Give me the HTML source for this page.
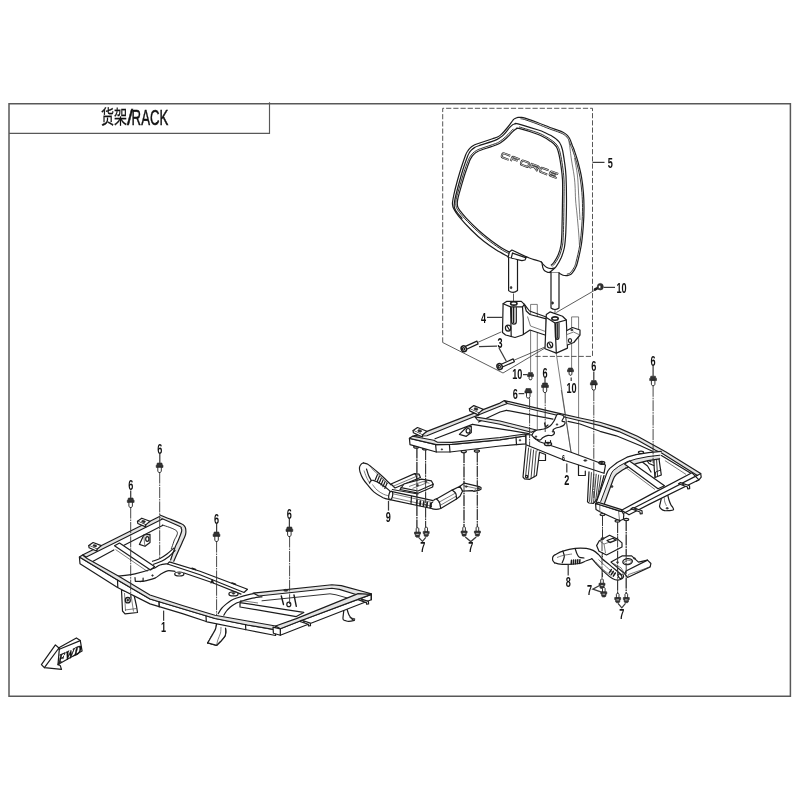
<!DOCTYPE html>
<html><head><meta charset="utf-8"><title>RACK</title>
<style>
html,body{margin:0;padding:0;background:#fff}
svg{display:block;filter:grayscale(1) blur(.3px)}
.fr{fill:none;stroke:#585858;stroke-width:1.5}
.o{fill:none;stroke:#1c1c1c;stroke-width:1.2;stroke-linejoin:round;stroke-linecap:round}
.w{fill:#fff;stroke:#1c1c1c;stroke-width:1.2;stroke-linejoin:round;stroke-linecap:round}
.g{fill:#e3e3e3;stroke:#1c1c1c;stroke-width:1.15;stroke-linejoin:round}
.k{fill:#333;stroke:#222;stroke-width:.6;stroke-linejoin:round}
.t{fill:none;stroke:#333;stroke-width:.8}
.h{fill:none;stroke:#444;stroke-width:.7}
.c{fill:none;stroke:#333;stroke-width:.9;stroke-dasharray:11 .9 1.6 .9}
.d{fill:none;stroke:#444;stroke-width:.9;stroke-dasharray:5.2 2}
.ld{fill:none;stroke:#3a3a3a;stroke-width:1.25}
text{font-family:"Liberation Sans",sans-serif;fill:#111}
.ttl{font-size:22.6px;stroke:#111;stroke-width:.5}
.n{font-size:14px;font-weight:bold;stroke:none}
</style></head><body>
<svg width="800" height="800" viewBox="0 0 800 800">
<rect width="800" height="800" fill="#fff"/>
<path class="fr" d="M9 103.8H790.4V696.3H9Z"/>
<path class="fr" style="stroke-width:1.15" d="M9 133.3H269.5V102.2"/>
<text class="ttl" transform="translate(100.9,123.6) scale(0.66,1)" x="0" y="0" style="font-family:'Liberation Sans','Noto Sans CJK SC',sans-serif;font-size:19.8px;stroke-width:.3">货架</text>
<text class="ttl" transform="translate(126.9,124.6) scale(0.95,1)" x="0" y="0">/</text>
<text class="ttl" transform="translate(131.6,124.6) scale(0.585,1)" x="0" y="0">RACK</text>
<path class="d" d="M442.7 342.5V108.3H592.5V356.4H534"/>
<path class="t" d="M442.7 342.5L503 373L545 348"/>
<path class="o" d="M517.5 117.5C518.1 117.5 519.8 117.2 521 117.3C522.2 117.4 522.2 117.2 525 118.1C527.8 119 533.3 120.9 537.5 122.5C541.7 124.1 546.6 126.2 550 127.5C553.4 128.8 555.8 129.5 558 130.3C560.2 131.1 561.6 131.6 563 132.3C564.4 133 565.5 133.7 566.5 134.6C567.5 135.5 568.3 136.5 569 137.5C569.7 138.5 569.9 139.1 570.5 140.5C571.1 141.9 571.9 144.5 572.5 146C573.1 147.5 573.1 146.8 574 149.5C574.9 152.2 576.8 157.4 578 162C579.2 166.6 580.6 171.9 581.5 177C582.4 182.1 583 187.4 583.4 192.5C583.8 197.6 584 201.9 584 207.5C584 213.1 583.8 219.8 583.3 226C582.8 232.2 582.3 238.9 581.3 245C580.3 251.1 578.5 258.6 577.5 262.5C576.5 266.4 576 266.8 575.2 268.5C574.4 270.2 573.4 271.6 572.5 272.6C571.6 273.7 570.9 274.3 570 274.8C569.1 275.3 568.5 275.5 567.3 275.6C566.1 275.7 564.5 275.7 563 275.2C561.5 274.7 558.9 273 558.1 272.6"/>
<path class="o" d="M517.5 117.5C517.1 117.7 515.7 118.2 515 118.6C514.3 119 514.4 118.5 513.1 120C511.9 121.5 509.5 125.1 507.5 127.5C505.5 129.9 503 132.8 501.3 134.4C499.6 136 499 136.3 497.5 137C496 137.7 495.8 137.7 492.5 138.8C489.2 139.9 480.8 142.7 477.5 143.8C474.2 145 474.2 145 473 145.7C471.8 146.4 470.9 147.2 470 148.1C469.1 149 468.3 150 467.6 151.2C466.9 152.3 466.7 152.3 465.6 155C464.6 157.7 462.8 162.9 461.3 167.5C459.9 172.1 458.1 177.9 456.9 182.5C455.6 187.1 454.5 191.7 453.8 195C453.1 198.3 452.7 200.8 452.5 202.5C452.3 204.2 452.5 204.4 452.7 205.5C452.9 206.6 452.8 207 453.8 208.8C454.8 210.6 455.9 212.8 458.8 216.3C461.7 219.8 467.1 225.8 471.3 230C475.5 234.2 479.6 238 483.8 241.3C488 244.6 492.3 247.5 496.3 250C500.3 252.5 506.1 255.4 508 256.5"/>
<path class="o" style="stroke-width:.9" d="M520.9 118.8C521.5 118.9 521.9 118.7 524.5 119.5C527.2 120.4 532.8 122.3 537 123.9C541.1 125.5 546 127.6 549.5 128.9C552.9 130.2 555.3 130.9 557.5 131.7C559.6 132.5 561 133 562.3 133.6C563.7 134.3 564.6 134.9 565.5 135.7C566.4 136.5 567.2 137.5 567.8 138.3C568.4 139.2 568.6 139.7 569.1 141.1C569.7 142.4 570.5 145.1 571.1 146.5C571.7 148 571.7 147.3 572.6 150C573.5 152.6 575.3 157.8 576.6 162.4C577.8 166.9 579.1 172.2 580 177.3C580.9 182.3 581.5 187.6 581.9 192.6C582.3 197.7 582.5 202 582.5 207.5C582.5 213 582.3 219.7 581.8 225.9C581.4 232.1 580.8 238.7 579.8 244.8C578.9 250.8 577 258.3 576 262.1C575.1 266 574.6 266.2 573.9 267.8C573.1 269.4 572.1 270.7 571.3 271.6C570.6 272.6 569.9 273.1 569.3 273.5C568.6 273.9 567.6 274 567.2 274.1"/>
<path class="h" d="M568.8 141.5C568.9 141.9 568.9 140.9 569.4 144C569.9 147.1 570.7 154.8 571.5 160C572.3 165.2 573.4 170.8 574 175C574.6 179.2 574.7 180.8 575 185C575.3 189.2 575.3 195.2 575.6 200C575.9 204.8 576.5 208.7 577 214C577.5 219.3 578.2 226.8 578.6 232C579 237.2 579.3 242.8 579.4 245"/>
<path class="h" d="M574.5 158C575 160.8 576.7 169.3 577.4 175C578.1 180.7 578.1 184.5 578.5 192C578.9 199.5 579.8 215.3 580 220"/>
<path class="o" d="M515.1 123.8C514.7 124 513.5 124.2 512.6 124.8C511.8 125.4 511.5 125.6 510 127.2C508.5 128.8 505.6 132.8 503.8 134.6C502.1 136.4 501 137 499.5 138C498 139 498.4 139.1 495 140.4C491.6 141.7 482.2 144.6 478.8 145.8C475.4 147 475.8 146.9 474.5 147.6C473.2 148.3 472.2 149.3 471.3 150.2C470.4 151.1 469.6 152.1 469 153.2C468.4 154.2 468.5 153.9 467.5 156.5C466.5 159.1 464.6 164.4 463.1 169C461.7 173.6 460.1 179.2 458.8 184C457.5 188.8 456 194.5 455.2 198C454.4 201.5 454.3 203.3 454.2 205C454.1 206.7 454.3 207 454.6 208C454.9 209 454.8 209.3 456 211C457.2 212.7 461 217.1 462 218.3"/>
<path class="o" d="M515.1 123.8C515.6 123.8 514.3 122.9 518 123.9C521.7 124.9 533 128.4 537.5 129.8C542 131.2 542.8 131.6 545 132.6C547.2 133.6 549.2 134.5 551 135.6C552.8 136.7 554.5 137.6 556 138.9C557.5 140.2 558.9 141.3 560 143.2C561.1 145 561.8 146.9 562.5 150C563.2 153.1 563.9 157.7 564.5 162C565.1 166.3 565.7 169.7 566 176C566.3 182.3 566.5 190.6 566.5 200C566.5 209.4 566.1 224.6 565.8 232.5C565.4 240.4 565.1 243.3 564.4 247.5C563.6 251.7 562.6 254.4 561.3 257.5C559.9 260.6 557.8 264.2 556.3 266.3C554.8 268.4 553.6 269 552.5 270C551.4 271 549.9 272.1 549.4 272.5"/>
<path class="o" d="M516.5 128.6C516.9 128.6 515.5 127.5 519 128.4C522.5 129.3 533.2 132.6 537.5 134.2C541.8 135.8 542.9 136.7 545 137.8C547.1 138.9 548.5 140 550 141C551.5 142 552.8 142.8 554 144C555.2 145.2 556.2 146.2 557 148C557.8 149.8 558.3 151.5 559 154.5C559.7 157.5 560.4 161.8 561 166C561.6 170.2 562.2 174.3 562.5 180C562.8 185.7 562.6 191.2 562.5 200C562.4 208.8 562.1 225 561.9 232.5C561.6 240 561.6 241.2 561 245C560.4 248.8 559.3 252.1 558.1 255C556.9 257.9 554.9 260.8 553.8 262.5C552.7 264.2 551.7 264.6 551.3 265"/>
<path class="o" d="M516.5 128.6C516.1 128.9 515.1 129.4 514.2 130.2C513.3 131 512.6 131.9 511.3 133.2C510 134.5 508 136.7 506.3 138.2C504.6 139.7 502.7 141.3 501 142.4C499.3 143.5 499.3 143.7 496 145C492.7 146.3 484.4 148.9 481.3 150C478.2 151.1 478.4 151.1 477.2 151.8C475.9 152.5 474.8 153.4 473.8 154.4C472.8 155.4 472 156.4 471.3 157.6C470.6 158.8 470.4 158.7 469.4 161.4C468.3 164.1 466.5 169.3 465 173.8C463.5 178.3 461.8 184.6 460.6 188.6C459.4 192.6 458.6 195.5 458 198C457.4 200.5 457.3 202 457.3 203.5C457.3 205 457.4 205.9 457.8 207C458.2 208.1 458.4 208.5 459.8 210.3C461.2 212.1 462.9 214.5 466 217.8C469.1 221.1 474.3 226.4 478.5 230.2C482.7 234 486.8 237.3 491 240.4C495.2 243.5 500.2 247 503.5 249C506.8 251 509.3 252 510.5 252.6"/>
<path class="o" style="stroke-width:.9" d="M519.4 127C522.5 127.9 533.6 131.2 538 132.8C542.4 134.4 543.6 135.3 545.7 136.5C547.9 137.6 549.3 138.7 550.9 139.8C552.4 140.8 553.8 141.7 555.1 142.9C556.3 144.2 557.5 145.5 558.4 147.4C559.3 149.2 559.8 151.1 560.5 154.2C561.2 157.2 561.9 161.5 562.5 165.8C563.1 170.1 563.7 174.2 564 179.9C564.3 185.6 564.1 191.2 564 200C563.9 208.8 563.7 225 563.4 232.5C563.1 240.1 563.1 241.4 562.5 245.2C561.8 249.1 560.7 252.6 559.5 255.6C558.2 258.6 556.2 261.6 555 263.3C553.9 265.1 552.8 265.6 552.4 266.1"/>
<path class="o" style="stroke-width:.9" d="M513.2 129.1C512.7 129.6 511.6 130.8 510.2 132.1C508.9 133.5 507 135.6 505.3 137.1C503.6 138.6 501.8 140.1 500.2 141.1C498.5 142.2 498.7 142.4 495.5 143.6C492.2 144.8 484 147.4 480.8 148.6C477.6 149.7 477.8 149.7 476.4 150.5C475.1 151.3 473.8 152.3 472.7 153.3C471.7 154.4 470.8 155.5 470 156.8C469.2 158.1 469.1 158.1 468 160.9C466.9 163.6 465 168.8 463.6 173.3C462.1 177.9 460.3 184.1 459.2 188.2C458 192.2 457.1 195.1 456.5 197.7C456 200.2 455.8 201.8 455.8 203.5C455.8 205.1 455.9 206.2 456.4 207.5C456.9 208.8 457.2 209.3 458.6 211.2C460 213.1 461.8 215.5 464.9 218.8C468.1 222.2 473.3 227.5 477.5 231.3C481.7 235.1 485.9 238.4 490.1 241.6C494.3 244.8 499.4 248.2 502.7 250.3C506 252.3 508.6 253.3 509.8 253.9"/>
<path class="w" d="M508.1 257.5L509.4 251.9L511.9 250L526.3 256.9L525 260L521.9 260.6L508.1 257.5"/>
<path class="o" d="M512.5 253.1L511.3 257.8"/>
<path class="o" d="M512.5 253.1L525.6 257.6"/>
<path class="o" d="M526.3 256.9C527.6 257.3 531.5 258.8 534 259.6C536.5 260.4 539.9 261.1 541.3 261.9C542.7 262.7 542 263.6 542.2 264.5C542.5 265.4 542.5 266.6 542.8 267.5C543.1 268.4 543.4 269.5 544 270.2C544.6 270.9 545.6 271.4 546.5 271.8C547.4 272.2 547.5 272.4 549.4 272.5C551.3 272.6 556.6 272.6 558.1 272.6"/>
<path class="o" d="M541.3 261.9C541.6 262.3 542.3 263.4 543.2 264.3C544.1 265.2 545.5 266.8 546.9 267.5C548.2 268.2 550 268.5 551.3 268.6C552.6 268.7 554 268.1 554.5 268"/>
<path class="w" d="M508.6 258V290.6Q513 294 517.5 290.6V260.2"/>
<ellipse class="k" cx="511.1" cy="287.6" rx="0.9" ry="1.2"/>
<path class="w" d="M551 272.6V308Q555 311 559 308V272.6"/>
<ellipse class="k" cx="552.6" cy="303" rx="0.9" ry="1.2"/>
<path class="t" d="M513.5 293.5L513.5 301.5"/>
<path class="t" d="M555 310L555 316.5"/>
<g transform="matrix(1,.38,-.34,1,501.4,157.1)" fill="none" stroke-linecap="butt" stroke-linejoin="round"><g stroke="#222" stroke-width="1.9"><path transform="translate(0,0)" d="M7.4 -4.2H1.2Q0 -4.2 0 -3.0V-1.2Q0 0 1.2 0H7.4"/><path transform="translate(9.6,0)" d="M7.4 -4.2H1.2Q0 -4.2 0 -3.0V.4M0 -2.1H5.920000000000001"/><path transform="translate(19.2,0)" d="M1.2 -4.2H6.2Q7.4 -4.2 7.4 -3.0V-1.2Q7.4 0 6.2 0H1.2Q0 0 0 -1.2V-3.0Q0 -4.2 1.2 -4.2Z"/><path transform="translate(28.8,0)" d="M0 .4V-4.2H6.2Q7.4 -4.2 7.4 -3.1500000000000004Q7.4 -2.1 6.2 -2.1H0M3.7 -2.1L7.4 .4"/><path transform="translate(38.4,0)" d="M7.4 -4.2H1.2Q0 -4.2 0 -3.0V-1.2Q0 0 1.2 0H7.4"/><path transform="translate(48,0)" d="M7.4 -4.2H1.2Q0 -4.2 0 -3.0V-1.2Q0 0 1.2 0H7.4M0 -2.1H5.920000000000001"/></g><g stroke="#fff" stroke-width=".6"><path transform="translate(0,0)" d="M7.4 -4.2H1.2Q0 -4.2 0 -3.0V-1.2Q0 0 1.2 0H7.4"/><path transform="translate(9.6,0)" d="M7.4 -4.2H1.2Q0 -4.2 0 -3.0V.4M0 -2.1H5.920000000000001"/><path transform="translate(19.2,0)" d="M1.2 -4.2H6.2Q7.4 -4.2 7.4 -3.0V-1.2Q7.4 0 6.2 0H1.2Q0 0 0 -1.2V-3.0Q0 -4.2 1.2 -4.2Z"/><path transform="translate(28.8,0)" d="M0 .4V-4.2H6.2Q7.4 -4.2 7.4 -3.1500000000000004Q7.4 -2.1 6.2 -2.1H0M3.7 -2.1L7.4 .4"/><path transform="translate(38.4,0)" d="M7.4 -4.2H1.2Q0 -4.2 0 -3.0V-1.2Q0 0 1.2 0H7.4"/><path transform="translate(48,0)" d="M7.4 -4.2H1.2Q0 -4.2 0 -3.0V-1.2Q0 0 1.2 0H7.4M0 -2.1H5.920000000000001"/></g></g>
<path class="h" d="M530.6 372L530.6 304.4L537.3 304.4L537.3 453"/>
<path class="h" d="M571.6 368L571.6 316.9L578.6 316.9L578.6 464.5"/>
<path class="w" d="M503.1 303.8L506.9 301.3L521.3 301.3L524.4 304.4L526.3 311L530 314.5L546.3 318.8L546.3 335.5L545 335L530 330L522.5 335L515 337.5L505.6 335L502.5 332.5L503.1 303.8Z"/>
<path class="o" d="M503.1 303.8L510.6 306.9L522.5 306.9L524.4 304.4"/>
<path class="o" d="M510.6 306.9L511.2 336.4"/>
<path class="o" d="M511.6 307.5V321.6Q511.7 324.2 514 324.2Q516.3 324.2 516.3 321.6V307.5"/>
<path class="o" style="stroke-width:1.5" d="M513.6 307.5L513.6 322.5"/>
<path class="o" d="M522.5 306.9L523.2 318L523.4 334.4"/>
<ellipse class="o" style="stroke-width:1.6" cx="513.8" cy="303.4" rx="3.2" ry="1.7"/>
<ellipse class="o" cx="508.1" cy="328.1" rx="2.7" ry="3"/>
<path class="o" d="M507 326L509.8 330.5"/>
<path class="o" d="M524.4 304.4L529.5 311L546.3 317"/>
<path class="h" d="M527.5 316.5L530.5 326L545.5 331.5"/>
<path class="w" d="M546.3 314.4L550 311.9L562.5 316.3L566.3 320L567.5 348.1L556.3 353.1L545 348.8L546.3 314.4Z"/>
<path class="o" d="M546.3 317.5L555 323.1L566.3 320"/>
<path class="o" d="M555 323.1L556.3 353.1"/>
<path class="o" d="M555.4 324V337Q555.5 339.4 557.3 339.4Q559 339.4 559 337V323"/>
<path class="o" style="stroke-width:1.4" d="M557.2 323.6L557.2 338"/>
<ellipse class="o" style="stroke-width:1.6" cx="555" cy="318.6" rx="3.2" ry="1.7"/>
<ellipse class="o" cx="550" cy="345" rx="2.7" ry="3"/>
<path class="o" d="M548.8 343L551.6 347.4"/>
<path class="w" d="M567 330.5L572.5 327.5L580 330L580 335L573.8 342.5L567.4 345"/>
<path class="h" d="M567 334.5L573.5 332L580 335"/>
<ellipse class="k" cx="571.9" cy="330" rx="1.3" ry="0.7"/>
<ellipse class="o" cx="570" cy="340.6" rx="1.6" ry="1.9"/>
<path class="w" d="M464.4 350.2L478.1 343.9L476.9 341.1L463.2 347.4"/>
<ellipse class="w" style="stroke-width:1.5" cx="463.8" cy="348.8" rx="2.6" ry="3" transform="rotate(-20 463.8 348.8)"/>
<ellipse class="o" cx="463.5" cy="348.9" rx="1.1" ry="1.3"/>
<path class="w" d="M500.2 368L514.4 361.7L513.2 358.9L499 365.2"/>
<ellipse class="w" style="stroke-width:1.5" cx="499.6" cy="366.6" rx="2.6" ry="3" transform="rotate(-20 499.6 366.6)"/>
<ellipse class="o" cx="499.3" cy="366.7" rx="1.1" ry="1.3"/>
<path class="t" d="M477.5 342.5L501.3 331.9"/>
<path class="t" d="M513.8 360.3L545 347"/>
<path class="t" d="M556.3 312.5L596 289.5"/>
<path class="h" d="M556.3 353.8L571 452"/>
<path class="c" d="M416.9 447.5L416.9 528"/>
<path class="c" d="M425.6 449L425.6 528"/>
<path class="c" d="M464 452L464 527.5"/>
<path class="c" d="M477.3 451.5L477.3 527.5"/>
<path class="c" d="M602.5 515L602.5 577"/>
<path class="c" d="M617.6 522L617.6 593"/>
<path class="c" d="M626.2 520L626.2 593"/>
<path class="w" d="M526 445.5L523 477L524.5 478.8L529.8 479.3L536.5 475.5L539.5 452.3"/>
<path class="o" style="stroke-width:.85" d="M528.6 448L525.6 476"/>
<path class="o" style="stroke-width:.85" d="M531 449L528 478"/>
<path class="o" style="stroke-width:.85" d="M533.6 450L531 478.4"/>
<path class="o" style="stroke-width:.85" d="M536.2 451L534 477"/>
<ellipse class="o" cx="526.6" cy="476.6" rx="1.1" ry="1.3"/>
<path class="o" d="M539.5 452.3L545.5 454.5L545.5 460.5L538.8 460.5"/>
<path class="w" d="M589 471.8L587.5 501.8L589 503L593.5 503.3L598 498L604 475.5"/>
<path class="o" style="stroke-width:.85" d="M591.4 472.6L589.6 501.4"/>
<path class="o" style="stroke-width:.85" d="M593.8 473.4L591.6 502.4"/>
<path class="o" style="stroke-width:.85" d="M596.2 474.2L593.6 502.4"/>
<path class="o" style="stroke-width:.85" d="M598.6 475L595.8 500"/>
<path class="o" style="stroke-width:.85" d="M601 475.6L597.4 498.6"/>
<path class="o" d="M578.5 464.3L578.5 475.5L585.3 475.5L585.3 471"/>
<path class="w" d="M661.3 498.5C661.1 499.2 660.6 501.6 660.3 503C660 504.4 659.4 505.6 659.6 506.6C659.8 507.7 660.7 508.6 661.5 509.3C662.3 510 663.2 510.5 664.5 510.7C665.8 510.9 667.5 510.7 669 510.6C670.5 510.5 672.8 510.5 673.4 509.9C674 509.3 672.9 507.8 672.5 507C672.1 506.2 671.6 506.2 671 505C670.4 503.8 669.5 501.6 669 500C668.5 498.4 668 496.1 667.8 495.3"/>
<path class="h" d="M664.3 497.5C664.4 498.2 664.4 500.6 664.8 502C665.2 503.4 666.2 505.3 666.5 506"/>
<ellipse class="k" cx="667.2" cy="508.3" rx="1.2" ry="0.8"/>
<path class="w" d="M653.8 456.3L654.2 468L655 477.5L661.3 475L660 466L658.8 457.5"/>
<path class="o" style="stroke-width:.9" d="M656.5 458L657.5 476"/>
<path class="o" style="stroke-width:.9" d="M655 477.5L655.6 472L660.8 470"/>
<path class="o" d="M645 458L649 463.5L653.8 465.5"/>
<path class="o" d="M640 459.5L643 462.5L647.5 466L651 472"/>
<path class="o" style="stroke-width:1.8" d="M647 459.6L650.6 461.2"/>
<path class="g" d="M412.5 436.3L422.5 433.1L500 403.1L504.4 400.6L507.5 403.5L500 406.3L426.9 435.8Z"/>
<path class="o" d="M435 438.8L472.5 424.4"/>
<path class="o" d="M478.5 422L500 412L506.3 410.3"/>
<path class="g" d="M475 416.9L500 421L536.3 430L531.3 432.3L500 424.2L477.5 420Z"/>
<path class="o" d="M472.5 424.4L500 428.8L528.8 433.6"/>
<path class="g" d="M504.4 400.6L556 412.6L580 418L600 422.3L618.8 428.1L637.5 436.3L658.8 448.1L666 452L700.7 473.6L697.3 475.4L662 453.2L655.5 450.3L636 439.3L618.8 431.6L600 425.6L580 420.8L556 415L507.5 403.5Z"/>
<path class="o" d="M506.3 410.3L553 419.2"/>
<path class="o" d="M568 421.3L580 424L600 431.3L616.3 435.8L640 445.5L652.5 451.3"/>
<path class="o" d="M661.4 455.6L692.9 474.6"/>
<path class="h" d="M664.9 460.6L686 474.4"/>
<path class="w" d="M413.1 430.6L417.5 427.5L426.9 431.2L422.5 435Z"/>
<path class="w" d="M413.1 430.6L413.4 432.8L422.5 437L422.5 435"/>
<ellipse class="k" cx="419.7" cy="430.9" rx="2" ry="1.1" transform="rotate(15 419.7 430.9)"/>
<path class="w" d="M469.4 408.7L473.8 405.6L483.2 409.3L478.8 413.1Z"/>
<path class="w" d="M469.4 408.7L469.7 410.9L478.8 415.1L478.8 413.1"/>
<ellipse class="k" cx="476" cy="409" rx="2" ry="1.1" transform="rotate(15 476 409)"/>
<path class="w" d="M459.4 434.4L466.3 427.5L471.3 426.3L471.3 432.5L466.3 436.3Z"/>
<ellipse class="o" style="stroke-width:1.2" cx="468.1" cy="430.8" rx="2" ry="2.3"/>
<ellipse class="g" cx="416.3" cy="446.9" rx="2.6" ry="1.2"/>
<ellipse class="g" cx="425" cy="448.8" rx="2.6" ry="1.2"/>
<ellipse class="g" cx="463.8" cy="451.6" rx="2.6" ry="1.2"/>
<ellipse class="g" cx="476.9" cy="451" rx="2.6" ry="1.2"/>
<path class="w" d="M409.4 438.3L436.3 444.6L452 444.4L500 439.8L526 435.8L526 443.8L500 446L450 452L436.3 452L410 444.6Z"/>
<path class="g" d="M409.4 438.3L412.5 436.3L433.8 440.3L437.5 442.2L452 442.4L500 437.5L525 434L526 435.8L500 439.8L452 444.4L436.3 444.6L409.4 438.3Z"/>
<path class="o" d="M435.6 444.6L436.3 452"/>
<path class="o" d="M449.4 444.6L450 452"/>
<path class="o" d="M516 437L516.5 444.6"/>
<ellipse class="k" cx="441.9" cy="449.4" rx="0.7" ry="0.7"/>
<ellipse class="k" cx="520" cy="440.3" rx="0.8" ry="0.8"/>
<ellipse class="k" cx="526.5" cy="437" rx="0.9" ry="0.9"/>
<path class="w" d="M526 434.5L532 435L534.2 438L539.5 441.8L571 452.3L605.5 465L604 473.3L565 460.5L526 444.8Z"/>
<ellipse class="k" cx="585.3" cy="460.5" rx="1.6" ry="0.8"/>
<ellipse class="o" cx="601.8" cy="462.8" rx="3" ry="1.5"/>
<ellipse class="k" cx="601.8" cy="462.6" rx="1.3" ry="0.7"/>
<path class="w" d="M532 435C532.3 433.8 534 431.5 536 430.5C538 429.5 541.7 429.8 544 429C546.3 428.2 548.3 427.3 550 426C551.7 424.7 552.8 422.9 554 421C555.2 419.1 556 415.7 557 414.6C558 413.5 558.8 414.2 560 414.5C561.2 414.8 563.7 415.4 564 416.5C564.3 417.6 561.8 420.1 562 421C562.2 421.9 564.7 421.3 565 422C565.3 422.7 564.8 424.2 564 425C563.2 425.8 561.3 426.5 560 427C558.7 427.5 557.2 427.5 556 428C554.8 428.5 553.2 429.2 553 430C552.8 430.8 554.7 432.1 554.5 433C554.3 433.9 553.1 435.1 552 435.5C550.9 435.9 549.5 435.1 548 435.4C546.5 435.7 544.3 436.7 543 437.5C541.7 438.3 541.1 439.7 540 440C538.9 440.3 537.5 439.6 536.5 439.2C535.5 438.8 534.8 438.2 534 437.5C533.2 436.8 531.7 436.2 532 435Z"/>
<ellipse class="k" cx="557" cy="424.5" rx="0.8" ry="0.8"/>
<ellipse class="k" cx="553" cy="431.5" rx="0.8" ry="0.8"/>
<ellipse class="k" cx="536" cy="436.6" rx="0.8" ry="0.8"/>
<path class="o" d="M544.5 423L545.5 427L548 425"/>
<path class="w" d="M545.5 440.5L545.5 443.5L550.5 443.5L550.5 440.5"/>
<ellipse class="w" style="stroke-width:1.3" cx="548" cy="444" rx="3.6" ry="1.7"/>
<ellipse class="k" cx="548" cy="443.6" rx="1.3" ry="0.7"/>
<path class="w" style="stroke:none" d="M595.5 504.5L606.3 474.6L607.8 471L609.8 468.4L617.2 462.5L627 457.2L636 454.6L648.5 452.7L661.3 451.4L660 455.2L648 456.6L636 459L627 461.8L618.8 466.3L613.2 470.6L611.6 473L610.3 476L600.7 501.5Z"/>
<path class="g" style="stroke:none" d="M600.7 501.5L610.3 476L611.6 473L613.2 470.6L618.8 466.3L627 461.8L636 459L648 456.6L660 455.2L659.6 458.8L648 460.6L637 463.4L628.8 466.6L622.5 470L616.2 474.6L614.6 476.6L613.4 479L604.5 503.4Z"/>
<path class="o" d="M595.5 504.5L606.3 474.6L607.8 471L609.8 468.4L617.2 462.5L627 457.2L636 454.6L648.5 452.7L661.3 451.4"/>
<path class="o" style="stroke-width:1" d="M600.7 501.5L610.3 476L611.6 473L613.2 470.6L618.8 466.3L627 461.8L636 459L648 456.6L660 455.2"/>
<path class="o" d="M604.5 503.4L613.4 479L614.6 476.6L616.2 474.6L622.5 470L628.8 466.6L637 463.4L648 460.6L659.6 458.8"/>
<path class="w" d="M624.5 464L658 488.8L664.5 485.8L629.5 461Z"/>
<path class="h" d="M625 467L655 489.5"/>
<path class="w" d="M595.6 503.5L618.5 510.6L622.3 511.8L623.8 514.8L623.4 519.3L619.6 520.8L599.8 511.8L596 509.5Z"/>
<path class="g" d="M595.6 503.5L598.5 502.4L621.5 509.6L622.3 511.8L618.5 510.6Z"/>
<path class="h" d="M599.8 505L599.8 511.8"/>
<path class="h" d="M618.5 510.6L619.6 520.8"/>
<path class="w" d="M621.5 510.2L650 494.9L692 472.8L699 479.8L650 503.9L629 514.8Z"/>
<path class="o" d="M623.8 513.2L650 499.7L697.3 475.4"/>
<path class="o" d="M700.7 473.6L701.2 477.1L699 479.8L696.4 481.3"/>
<path class="w" d="M633 507.6L642 510.8L642.2 513.6L640.2 513.8L640 512L631 508.8Z"/>
<ellipse class="k" cx="635.5" cy="509.2" rx="1.1" ry="0.7"/>
<path class="w" d="M680.5 482.6L689.5 485.8L689.7 488.6L687.7 488.8L687.5 487L678.5 483.8Z"/>
<ellipse class="k" cx="683" cy="484.2" rx="1.1" ry="0.7"/>
<ellipse class="g" cx="602.5" cy="514.6" rx="2.4" ry="1.1"/>
<ellipse class="g" cx="617.5" cy="521" rx="2.4" ry="1.1"/>
<ellipse class="g" cx="626.3" cy="519.5" rx="2.4" ry="1.1"/>
<ellipse class="w" cx="641" cy="452.3" rx="2.6" ry="1.2"/>
<ellipse class="k" cx="612" cy="486.5" rx="1" ry="1"/>
<path class="w" d="M121.5 590L122.5 611L125 613.8L137.5 612.5L136.5 606L133.8 594Z"/>
<path class="h" d="M124.5 593L125.5 611"/>
<path class="h" d="M131 595L133.5 611.5"/>
<ellipse class="o" style="stroke-width:1.3" cx="127.8" cy="600.2" rx="2.5" ry="2.7"/>
<ellipse class="k" cx="127.8" cy="600.2" rx="1" ry="1.1"/>
<path class="h" d="M125 610L136.5 608.5"/>
<path class="o" d="M216.6 624.2C216.4 625 216 627.5 215.5 629C215 630.5 214.2 631.5 213.4 633C212.6 634.5 211.4 636.4 210.5 638C209.6 639.6 208.2 642.1 207.7 642.9"/>
<path class="o" d="M207.7 642.9L216.6 645.3"/>
<path class="o" d="M216.6 645.3C217.2 644.7 219.1 643 220.5 641.5C221.9 640 223.9 638 224.8 636.4C225.7 634.8 225.7 633.4 225.8 632C225.9 630.6 225.6 628.9 225.5 628.3"/>
<path class="h" d="M221 627C220.9 628 221 630.9 220.5 633C220 635.1 218.7 637.5 218 639.5C217.3 641.5 216.8 644.3 216.6 645.3"/>
<path class="w" style="stroke:none" d="M216.6 624.2L207.7 642.9L216.6 645.3L224.8 636.4L225.5 628.3Z"/>
<path class="o" d="M216.6 624.2C216.4 625 216 627.5 215.5 629C215 630.5 214.2 631.5 213.4 633C212.6 634.5 211.4 636.4 210.5 638C209.6 639.6 208.2 642.1 207.7 642.9"/>
<path class="o" d="M207.7 642.9L216.6 645.3"/>
<path class="o" d="M216.6 645.3C217.2 644.7 219.1 643 220.5 641.5C221.9 640 223.9 638 224.8 636.4C225.7 634.8 225.7 633.4 225.8 632C225.9 630.6 225.6 628.9 225.5 628.3"/>
<path class="h" d="M221 627C220.9 628 221 630.9 220.5 633C220 635.1 218.7 637.5 218 639.5C217.3 641.5 216.8 644.3 216.6 645.3"/>
<path class="o" d="M344.1 608.1C344 609.1 343.6 612.1 343.4 614C343.2 615.9 342.7 618.3 343.1 619.4C343.5 620.5 345.1 620.5 346 620.8C346.9 621.1 347.4 621.4 348.8 621.3C350.2 621.2 353.5 620.5 354.4 620.3"/>
<path class="o" d="M347 609C347.3 610 348.1 613.2 349 615C349.9 616.8 351.9 618.8 352.5 619.5"/>
<path class="k" d="M349.5 617.5L355 618.8L354.4 620.3"/>
<path class="w" d="M139.4 544.4L143.8 535L150 534.4L150 542.5L145 546.3Z"/>
<path class="h" d="M143.8 535L144.5 543L145 546.3"/>
<ellipse class="o" cx="147.3" cy="539" rx="1.6" ry="2.4"/>
<path class="g" d="M82.5 555L160 516.3L162.5 518.9L86.3 557Z"/>
<path class="o" d="M93.1 561.3L113.8 550"/>
<path class="o" d="M123.5 545.5L163 525.3"/>
<path class="w" d="M88.8 545.6L93.1 542.5L101.3 545.6L97 549.2Z"/>
<path class="w" d="M88.8 545.6L89.1 547.8L97 551.2L97 549.2"/>
<ellipse class="k" cx="94.8" cy="545.8" rx="1.9" ry="1" transform="rotate(15 94.8 545.8)"/>
<path class="w" d="M137.5 521.3L141.8 518.2L150 521.3L145.7 524.9Z"/>
<path class="w" d="M137.5 521.3L137.8 523.5L145.7 526.9L145.7 524.9"/>
<ellipse class="k" cx="143.5" cy="521.5" rx="1.9" ry="1" transform="rotate(15 143.5 521.5)"/>
<path class="w" d="M114.5 545.8L150.5 570L154.5 566.6L119.5 543Z"/>
<path class="h" d="M115.5 549.5L147.5 571.5"/>
<path class="g" style="stroke:none" d="M160 515C161.2 515 166.4 517.5 170 519C173.6 520.5 178.9 522.7 181.3 523.8C183.7 524.9 183.6 525 184.3 525.8C185 526.6 185.5 527.4 185.7 528.8C185.9 530.2 186.2 532 185.6 534.4C185 536.8 183.1 540.4 182 543C180.9 545.6 180.2 547 178.8 550C177.4 553 175.2 559.6 173.8 561.3C172.4 563 170.4 562.3 170.6 560C170.8 557.7 173.8 550.7 175 547.5C176.2 544.3 176.9 543.7 178 541C179.1 538.3 181.1 533.4 181.6 531.3C182.1 529.2 181.6 529.3 181.2 528.5C180.8 527.7 182.5 527.9 179.4 526.3C176.3 524.7 165.7 520.7 162.5 518.8C159.3 516.9 158.8 515 160 515Z"/>
<path class="o" d="M160 515C161.7 515.7 166.4 517.5 170 519C173.6 520.5 178.9 522.7 181.3 523.8C183.7 524.9 183.6 525 184.3 525.8C185 526.6 185.5 527.4 185.7 528.8C185.9 530.2 186.2 532 185.6 534.4C185 536.8 183.1 540.4 182 543C180.9 545.6 180.2 547 178.8 550C177.4 553 174.6 559.4 173.8 561.3"/>
<path class="o" d="M162.5 518.8C165.3 520 176.3 524.7 179.4 526.3C182.5 527.9 180.8 527.7 181.2 528.5C181.6 529.3 182.1 529.2 181.6 531.3C181.1 533.4 179.1 538.3 178 541C176.9 543.7 176.2 544.3 175 547.5C173.8 550.7 171.3 557.9 170.6 560"/>
<path class="o" style="stroke-width:.9" d="M162.5 525C164.9 526 175 528.6 176.9 531.3C178.8 534 174.9 538.1 174 541C173.1 543.9 171.8 547.5 171.3 548.8"/>
<path class="o" d="M152.5 561.3C153.8 560.8 157.6 559.7 160 558.5C162.4 557.3 164.7 555.7 167 554C169.3 552.3 172.7 549.1 173.8 548.1"/>
<path class="o" d="M153.5 564.3C154.9 563.8 159.4 562.3 162 561C164.6 559.7 166.8 558.2 169 556.5C171.2 554.8 174 551.5 175 550.5"/>
<path class="o" d="M117.5 576.3C120.4 575.9 129.2 575 135 573.8C140.8 572.5 148.3 570.3 152.5 568.8C156.7 567.3 157.5 565.8 160 565C162.5 564.2 166.2 564 167.5 563.8"/>
<path class="o" d="M140 581.6C141.1 581.4 143.8 581.2 146.3 580.6C148.8 580 152.5 579.2 155 578.1C157.5 577 159.2 575 161.3 573.8C163.4 572.6 165.2 571.2 167.5 570.8C169.8 570.4 173.8 571.2 175 571.3"/>
<path class="o" d="M135 577.5L135.3 581.3L143.1 581.3L143.1 578"/>
<ellipse class="k" cx="152.5" cy="575.5" rx="0.8" ry="0.8"/>
<path class="w" d="M169.4 561.9L200 571.3L247.5 589.3L244 592.5L200 574.8L167.5 564Z"/>
<path class="o" d="M184.1 573L212 582.5L241 594.1"/>
<ellipse class="w" cx="179.3" cy="574" rx="4.6" ry="2"/>
<ellipse class="k" cx="179.3" cy="573.6" rx="1.3" ry="0.7"/>
<ellipse class="w" cx="233.5" cy="593.9" rx="4.6" ry="2"/>
<ellipse class="k" cx="233.5" cy="593.5" rx="1.3" ry="0.7"/>
<path class="o" style="stroke-width:1.6" d="M192 568.2L195.5 569.4"/>
<path class="o" style="stroke-width:1.6" d="M232 583L235.5 584.3"/>
<path class="o" d="M211 583L212.2 579.8L213.4 583"/>
<path class="w" d="M79.4 557L117.5 580L150 599L182.5 608.8L215 618.5L247.5 625L275.6 629.8L275.6 635.5L247.5 630L207 621.8L182.5 613.6L150 603.9L117.5 587.5L80 563.8Z"/>
<path class="g" d="M79.4 557L82.5 555L87.5 558.8L118.8 576.3L150 595L182.5 605.5L215 615.3L247.5 621L275.6 626L275.6 629.8L247.5 625L215 618.5L182.5 608.8L150 599L117.5 580L79.4 557Z"/>
<path class="o" d="M117.5 580L117.8 587.5"/>
<path class="o" style="stroke-width:1.5" d="M159 601.8L159.2 606.8"/>
<path class="o" d="M206 616L206.3 621.6"/>
<path class="o" d="M245.5 624.6L245.8 629.6"/>
<path class="o" d="M218.3 613.6C218.8 612.8 220.2 610.1 221.5 608.5C222.8 606.9 224.8 605.2 226.4 603.9C228 602.6 229.4 601.5 231 600.5C232.6 599.5 232.7 599.3 236 598.2C239.3 597.1 246.5 595 250.8 594.1C255.1 593.2 260.1 592.9 262 592.6"/>
<path class="o" d="M223.8 615.2C224.2 614.5 225.4 612.4 226.5 611C227.6 609.6 229.2 608.1 230.4 607C231.7 605.9 232.6 605.3 234 604.5C235.4 603.7 235.5 603.3 238.6 602.3C241.7 601.2 248.6 599.1 252.5 598.2C256.4 597.3 260.4 597 262 596.8"/>
<path class="g" d="M253.1 593.1L331.9 584.7L341.3 585.6L371.3 593.8L360 595.7L339.4 589.4L331.9 588.3L258.8 596Z"/>
<path class="o" style="stroke-width:.9" d="M262 600.8L330 593.8L336 594.8L352 599.3"/>
<path class="w" d="M240 602.6L303.8 612.4L296.3 616.6L240 607Z"/>
<path class="h" d="M240 600.4L258 603"/>
<path class="o" style="stroke-width:1.4" d="M281.3 596L283.5 604.5"/>
<path class="o" style="stroke-width:1.4" d="M294 595L296.3 606.3"/>
<ellipse class="o" cx="288.8" cy="604.4" rx="2" ry="2.2"/>
<path class="w" d="M280.3 628.8L300 621L371.3 594.4L371.3 599.7L300 627.5L280.3 635.3Z"/>
<path class="g" d="M275.6 626L296.3 618.6L358.1 593.6L371.3 594.4L300 621L280.3 628.8Z"/>
<path class="w" d="M273 627.2L280.3 628.8L280.3 635.3L273.4 633.2Z"/>
<path class="o" d="M371.3 593.8L371.3 599.7"/>
<path class="w" d="M301.9 620.3L310.3 623.1L310.5 625.7L308.5 625.9L308.3 624.3L299.9 621.5Z"/>
<ellipse class="k" cx="304.2" cy="621.8" rx="1.1" ry="0.7"/>
<path class="w" d="M360 598.6L368.4 601.4L368.6 604L366.6 604.2L366.4 602.6L358 599.8Z"/>
<ellipse class="k" cx="362.3" cy="600.1" rx="1.1" ry="0.7"/>
<ellipse class="k" cx="285.8" cy="590.3" rx="2.2" ry="1"/>
<path class="w" d="M391 484L414.6 473.6L419.1 474.1L420.4 477.5L395 488Z"/>
<path class="h" d="M393 486.3L418.5 475.5"/>
<path class="o" d="M414.6 473.6C414.9 474 415.9 475.1 416.3 476C416.7 476.9 416.7 478.5 416.8 479"/>
<path class="w" d="M404 484L421.4 479.2L431.5 480.9L433.2 484.2L432.6 487L418 493.2L400 489.5Z"/>
<path class="o" d="M433.2 484.2L418 491L401 487.6"/>
<path class="h" d="M409 486.5L423 481.5L429.5 483.3"/>
<path class="h" d="M412.5 488.4L426.5 483"/>
<ellipse class="k" cx="417.6" cy="485.3" rx="1.1" ry="0.7"/>
<ellipse class="k" cx="425.8" cy="481.3" rx="1.1" ry="0.7"/>
<path class="o" d="M392.1 489.5L418 494"/>
<path class="w" style="stroke:none" d="M363.4 462.9L359.5 467.4L362.9 478.6L374.1 492.1L389.9 499.6L392 491L391 484.8L378.6 473Z"/>
<path class="o" d="M363.4 462.9C363 463.1 361.6 463.6 361 464.4C360.4 465.1 359.7 466.1 359.5 467.4C359.3 468.6 359.4 470 360 471.9C360.6 473.8 361.7 476.5 362.9 478.6C364.1 480.7 365.5 482.4 367.4 484.6C369.3 486.9 371.5 489.9 374.1 492.1C376.7 494.3 380.5 496.4 383.1 497.7C385.7 498.9 388.8 499.3 389.9 499.6"/>
<path class="o" d="M363.4 462.9C364.1 463.1 366 463.2 367.4 464C368.8 464.8 370 465.9 371.9 467.4C373.8 468.9 376.4 471 378.6 473C380.9 475 383.3 477.2 385.4 479.2C387.5 481.2 390.1 483.9 391 484.8"/>
<path class="o" d="M366.5 469C366.9 470.1 367.8 473.6 368.6 475.5C369.4 477.4 370.9 479.7 371.3 480.5"/>
<path class="h" d="M364 470.5C364.4 471.6 365.5 474.9 366.4 477C367.3 479.1 369.1 482.1 369.6 483.1"/>
<path class="o" d="M369.6 483.1C369.8 482.8 370.1 481.5 370.7 481C371.3 480.5 372.2 480.1 373.3 480.3C374.4 480.5 376.8 481.7 377.5 482"/>
<path class="o" d="M377.5 482C378.4 482.6 381.1 484.2 383 485.5C384.9 486.8 387.4 488.7 388.7 489.9C390 491.1 390.6 492.4 391 492.9"/>
<path class="h" d="M372.5 484.5C373.2 485.4 375.2 488.4 377 490C378.8 491.6 381.3 493.2 383.5 494.2C385.7 495.2 388.9 495.9 390 496.2"/>
<path class="o" d="M377.5 474.5L375.3 479.7"/>
<path class="o" d="M379.4 476.2L377.2 481.4"/>
<path class="o" d="M381.3 478L379.1 483.2"/>
<path class="o" d="M383.2 479.8L381 484.9"/>
<path class="o" d="M385.1 481.5L382.9 486.7"/>
<path class="o" d="M387 483.2L384.8 488.4"/>
<path class="h" d="M371.5 468.5C372.4 469.3 375.1 471.8 377 473.5C378.9 475.2 381.2 477.2 383 479C384.8 480.8 387.2 483.2 388 484"/>
<path class="w" d="M391 491.4L433.2 500.7Q437.8 502.6 436.2 506.4Q435 509 431.5 508.5L389.9 499.6Z"/>
<ellipse class="w" cx="390.7" cy="495.5" rx="1.9" ry="4.1" transform="rotate(10 390.7 495.5)"/>
<path class="h" d="M393 493.8L432.5 502.6"/>
<path class="h" d="M392.5 497.5L431 506"/>
<path class="o" d="M411.5 496.3L411 503.5"/>
<path class="o" style="stroke-width:1.7" d="M417 500.3L416.6 504.6"/>
<path class="o" style="stroke-width:1.7" d="M420.4 501.1L420 505.4"/>
<path class="o" style="stroke-width:1.7" d="M423.8 501.8L423.4 506.1"/>
<path class="o" style="stroke-width:1.7" d="M427.2 502.6L426.8 506.9"/>
<path class="o" style="stroke-width:1.7" d="M430.6 503.3L430.2 507.6"/>
<ellipse class="o" cx="432.6" cy="504.6" rx="1.4" ry="2.6" transform="rotate(10 432.6 504.6)"/>
<path class="w" d="M433.7 500.2Q435 499 436.4 498.9L452.1 490.1L460 486.2L462.6 491L460 496.2L456.5 498.9L440.7 508.5Q436 510.2 431.5 508.5"/>
<path class="h" d="M438.5 502.5L455.6 493"/>
<path class="h" d="M439.8 505.6L456 496.3"/>
<path class="o" d="M436.4 498.9C436.9 499.5 438.8 500.9 439.5 502.5C440.2 504.1 440.5 507.5 440.7 508.5"/>
<path class="o" d="M452.1 490.1C452.7 490.7 455.1 492 455.8 493.5C456.5 495 456.4 498 456.5 498.9"/>
<path class="w" d="M460 486.2L464.4 483.1L479.2 486.6L481 487.5L481 489.2L479.2 490.1L474 491.4L472.3 490.6L462.6 491Z"/>
<path class="h" d="M463.5 485.6L476 488.4L474 491.4"/>
<ellipse class="k" cx="466.3" cy="486.6" rx="1.2" ry="0.7"/>
<ellipse class="k" cx="478.3" cy="488.4" rx="1.3" ry="0.9"/>
<path class="w" d="M596.6 545.6L599.3 540.8L609.6 535.3L617.9 539.4L622 542.9L622 547L606.5 555L599 551.3Z"/>
<path class="h" d="M599.3 540.8L604 544L617.9 539.4"/>
<path class="h" d="M604 544L605.5 553.2"/>
<path class="o" d="M607 540.5L613 538.3L616 540.3L610 542.6Z"/>
<ellipse class="k" cx="602.6" cy="538.6" rx="1.6" ry="1"/>
<path class="w" style="stroke:none" d="M552.6 558L555.3 554.6L562.9 551.1L575.3 548.4L586.3 548.4L593.1 550.4L598.6 554.6L621.3 574.5L622 578.6L617.9 580L612.4 578.6L605.5 573.1L597.3 564.9L591.8 558.7L579.4 563.5L560.1 564.2L554.6 562.8Z"/>
<path class="o" d="M554.6 562.8C554.3 562.4 553.1 561.3 552.8 560.5C552.5 559.7 552.5 558.8 552.6 558C552.7 557.2 553 556.6 553.5 556C554 555.4 553.7 555.4 555.3 554.6C556.9 553.8 559.6 552.1 562.9 551.1C566.2 550.1 571.4 548.9 575.3 548.4C579.2 547.9 583.3 548.1 586.3 548.4C589.3 548.7 591 549.4 593.1 550.4C595.2 551.4 597.1 553.2 598.6 554.6C600.1 556 600.3 557 602.1 558.7C603.9 560.4 607 562.7 609.6 564.9C612.2 567.1 616 570.2 617.9 571.8C619.8 573.4 620.7 574 621.3 574.5"/>
<path class="o" d="M554.6 562.8C555.5 563 557.8 563.9 560.1 564.2C562.4 564.5 565.2 564.5 568.4 564.4C571.6 564.3 576.4 564.1 579.4 563.5C582.4 562.9 584.2 561.6 586.3 560.8C588.4 560 590.9 559.1 591.8 558.7"/>
<path class="o" d="M591.8 558.7C592.2 559.1 593.1 560 594 561C594.9 562 595.4 562.9 597.3 564.9C599.2 566.9 603 570.8 605.5 573.1C608 575.4 610.3 577.4 612.4 578.6C614.5 579.8 616.3 580.2 617.9 580.2C619.5 580.2 621 579.4 622 578.8C623 578.2 623.5 577.3 623.6 576.5C623.7 575.7 622.9 574.6 622.8 574.2"/>
<path class="o" d="M562.9 551.1C563.1 552 564.4 554.7 564.3 556.6C564.2 558.5 562.6 561.8 562.2 562.8"/>
<path class="o" d="M575.3 549C575.6 549.9 576.6 553.2 577.3 554.6C578 556 578.3 556.7 579.4 557.3C580.5 557.9 583.2 557.9 584 558"/>
<path class="h" d="M557 557.5C558 557.2 560.5 556.1 563 555.5C565.5 554.9 570.5 554.2 572 554"/>
<path class="o" style="stroke-width:1.5" d="M571.5 560.3L571.2 564"/>
<path class="o" style="stroke-width:1.5" d="M573.6 560.1L573.3 563.9"/>
<path class="o" style="stroke-width:1.5" d="M575.7 560L575.4 563.7"/>
<path class="o" style="stroke-width:1.5" d="M577.8 559.8L577.5 563.5"/>
<path class="o" style="stroke-width:1.5" d="M579.9 559.7L579.6 563.4"/>
<path class="h" d="M598.5 559.5C599.8 560.8 603.8 564.6 606.5 567C609.2 569.4 613.2 572.7 614.5 573.8"/>
<path class="h" d="M595.5 561.8C596.8 563.1 600.8 567.4 603.5 569.8C606.2 572.2 610.2 575 611.5 576"/>
<path class="o" style="stroke-width:1.5" d="M611.3 569.6L609.3 572.8"/>
<path class="o" style="stroke-width:1.5" d="M613.3 571.3L611.3 574.5"/>
<path class="o" style="stroke-width:1.5" d="M615.3 573L613.3 576.2"/>
<ellipse class="o" cx="620" cy="576.2" rx="1.6" ry="2.6" transform="rotate(-35 620 576.2)"/>
<path class="w" d="M611 562.1L622 555.9L631.6 555.9L638.5 562.1L647.5 560.1L650.9 563.5L650.2 566.9L627.5 577.5L624.8 573.8Z"/>
<path class="o" d="M624.8 573.8L626 571L647.5 560.1"/>
<path class="h" d="M627.5 577.5L628.5 574.5L650.2 566.9"/>
<ellipse class="o" style="stroke-width:1.3" cx="627.6" cy="561.6" rx="4.8" ry="3" transform="rotate(-8 627.6 561.6)"/>
<ellipse class="h" cx="627.9" cy="562.2" rx="3.4" ry="2" transform="rotate(-8 627.9 562.2)"/>
<path class="h" d="M613.5 563.5L621 567.8L624.8 573.8"/>
<ellipse class="k" cx="617.5" cy="562.3" rx="1" ry="0.7"/>
<ellipse class="k" cx="634.5" cy="558.4" rx="1" ry="0.7"/>
<path class="k" d="M650.8 376.2h4.6l.45 2.2h.65v2.2h-6.8v-2.2h.65z"/><path class="w" style="stroke-width:.9" d="M651.4 380.7v3.6l.9 1.4h1.7l.9 -1.4v-3.6z"/>
<path class="k" d="M591.5 380.6h4.6l.45 2.2h.65v2.2h-6.8v-2.2h.65z"/><path class="w" style="stroke-width:.9" d="M592 385.1v3.6l.9 1.4h1.7l.9 -1.4v-3.6z"/>
<path class="k" d="M542.7 383h4.6l.45 2.2h.65v2.2h-6.8v-2.2h.65z"/><path class="w" style="stroke-width:.9" d="M543.2 387.5v3.6l.9 1.4h1.7l.9 -1.4v-3.6z"/>
<path class="k" d="M526 388.6h4.6l.45 2.2h.65v2.2h-6.8v-2.2h.65z"/><path class="w" style="stroke-width:.9" d="M526.5 393.1v3.6l.9 1.4h1.7l.9 -1.4v-3.6z"/>
<path class="k" d="M128.4 498h4.6l.45 2.2h.65v2.2h-6.8v-2.2h.65z"/><path class="w" style="stroke-width:.9" d="M128.9 502.5v3.6l.9 1.4h1.7l.9 -1.4v-3.6z"/>
<path class="k" d="M157.3 463h4.6l.45 2.2h.65v2.2h-6.8v-2.2h.65z"/><path class="w" style="stroke-width:.9" d="M157.8 467.5v3.6l.9 1.4h1.7l.9 -1.4v-3.6z"/>
<path class="k" d="M214.2 532h4.6l.45 2.2h.65v2.2h-6.8v-2.2h.65z"/><path class="w" style="stroke-width:.9" d="M214.8 536.5v3.6l.9 1.4h1.7l.9 -1.4v-3.6z"/>
<path class="k" d="M287.1 527h4.6l.45 2.2h.65v2.2h-6.8v-2.2h.65z"/><path class="w" style="stroke-width:.9" d="M287.6 531.5v3.6l.9 1.4h1.7l.9 -1.4v-3.6z"/>
<path class="w" style="stroke-width:.9" d="M416.2 532.1v-3.4l.6-.9h1.4l.6 .9v3.4z"/><path class="k" d="M414.5 532h6v2.1l-.9 .5v1.8l-1 .8h-2.2l-1-.8v-1.8l-.9-.5z"/><path d="M416.2 534.4h2.6" stroke="#fff" stroke-width=".7"/>
<path class="w" style="stroke-width:.9" d="M424.9 531.5v-3.4l.6-.9h1.4l.6 .9v3.4z"/><path class="k" d="M423.2 531.4h6v2.1l-.9 .5v1.8l-1 .8h-2.2l-1-.8v-1.8l-.9-.5z"/><path d="M424.9 533.8h2.6" stroke="#fff" stroke-width=".7"/>
<path class="w" style="stroke-width:.9" d="M462.8 531.1v-3.4l.6-.9h1.4l.6 .9v3.4z"/><path class="k" d="M461.1 531h6v2.1l-.9 .5v1.8l-1 .8h-2.2l-1-.8v-1.8l-.9-.5z"/><path d="M462.8 533.4h2.6" stroke="#fff" stroke-width=".7"/>
<path class="w" style="stroke-width:.9" d="M476.1 531.1v-3.4l.6-.9h1.4l.6 .9v3.4z"/><path class="k" d="M474.4 531h6v2.1l-.9 .5v1.8l-1 .8h-2.2l-1-.8v-1.8l-.9-.5z"/><path d="M476.1 533.4h2.6" stroke="#fff" stroke-width=".7"/>
<path class="w" style="stroke-width:.9" d="M616.4 597.6v-3.4l.6-.9h1.4l.6 .9v3.4z"/><path class="k" d="M614.7 597.5h6v2.1l-.9 .5v1.8l-1 .8h-2.2l-1-.8v-1.8l-.9-.5z"/><path d="M616.4 599.9h2.6" stroke="#fff" stroke-width=".7"/>
<path class="w" style="stroke-width:.9" d="M625 597.6v-3.4l.6-.9h1.4l.6 .9v3.4z"/><path class="k" d="M623.3 597.5h6v2.1l-.9 .5v1.8l-1 .8h-2.2l-1-.8v-1.8l-.9-.5z"/><path d="M625 599.9h2.6" stroke="#fff" stroke-width=".7"/>
<path class="w" style="stroke-width:.9" d="M600.7 583.3v-3.4l.6-.9h1.4l.6 .9v3.4z"/><path class="k" d="M599 583.2h6v2.1l-.9 .5v1.8l-1 .8h-2.2l-1-.8v-1.8l-.9-.5z"/><path d="M600.7 585.6h2.6" stroke="#fff" stroke-width=".7"/>
<path class="w" style="stroke-width:.9" d="M602.5 591.9v-3.4l.6-.9h1.4l.6 .9v3.4z"/><path class="k" d="M600.8 591.8h6v2.1l-.9 .5v1.8l-1 .8h-2.2l-1-.8v-1.8l-.9-.5z"/><path d="M602.5 594.2h2.6" stroke="#fff" stroke-width=".7"/>
<path class="k" d="M528.5 372.6h4l.4 1.8h.6v2h-6v-2h.6z"/><path class="w" style="stroke-width:.9" d="M529.1 376.4v2.4l.7 1h1.4l.7-1v-2.4z"/>
<path class="k" d="M568.5 368h4l.4 1.8h.6v2h-6v-2h.6z"/><path class="w" style="stroke-width:.9" d="M569.1 371.8v2.4l.7 1h1.4l.7-1v-2.4z"/>
<path class="o" style="stroke-width:2.6" d="M597.6 288.2L594.9 289.5"/>
<ellipse class="k" cx="600.3" cy="286.7" rx="3" ry="3.3"/>
<ellipse class="w" style="stroke-width:.6" cx="599.7" cy="286.9" rx="1.4" ry="1.7"/>
<path class="c" d="M653.1 385.8L653.1 463"/>
<path class="c" d="M593.8 390.2L593.8 498"/>
<path class="c" d="M545.2 392.6L545.2 432"/>
<path class="c" d="M529.6 398.2L529.6 447"/>
<path class="c" d="M130.7 507.6L130.7 598"/>
<path class="c" d="M159.7 472.6L159.7 558"/>
<path class="c" d="M216.6 541.6L216.6 616"/>
<path class="c" d="M289.6 536.6L289.6 604"/>
<path class="h" d="M561.3 390L571 452"/>
<path class="c" d="M602 540L602 578.5"/>
<path class="c" d="M416.9 447.5L416.9 527.5"/>
<path class="c" d="M425.6 449L425.6 527"/>
<path class="c" d="M464 452L464 526.5"/>
<path class="c" d="M477.3 451.5L477.3 526.5"/>
<path class="c" d="M602.5 515L602.5 538"/>
<path class="c" d="M617.6 522L617.6 593"/>
<path class="c" d="M626.2 520L626.2 593"/>
<text class="n" text-anchor="middle" style="font-size:15.2px" transform="translate(610.3,167.7) scale(0.6,1)">5</text>
<path class="ld" d="M592.5 162.4L604.5 162.4"/>
<text class="n" text-anchor="middle" style="font-size:15.2px" transform="translate(621.6,292.7) scale(0.6,1)">10</text>
<path class="ld" d="M603.5 287.4L615 287.4"/>
<text class="n" text-anchor="middle" style="font-size:15.2px" transform="translate(483.6,322.8) scale(0.6,1)">4</text>
<path class="ld" d="M487 317.4L502.5 317.4"/>
<text class="n" text-anchor="middle" style="font-size:15.2px" transform="translate(500,347.7) scale(0.6,1)">3</text>
<path class="ld" d="M479 346.6L497 346.2"/>
<path class="ld" d="M499 348L506.3 361.3"/>
<text class="n" text-anchor="middle" style="font-size:15.2px" transform="translate(517.3,378.8) scale(0.6,1)">10</text>
<path class="ld" d="M523 374.6L527.5 374.6"/>
<text class="n" text-anchor="middle" style="font-size:15.2px" transform="translate(545,377.7) scale(0.6,1)">6</text>
<path class="ld" d="M545 378L545 383"/>
<text class="n" text-anchor="middle" style="font-size:15.2px" transform="translate(515.3,399) scale(0.6,1)">6</text>
<path class="ld" d="M518.6 393.6L524.3 393.6"/>
<text class="n" text-anchor="middle" style="font-size:15.2px" transform="translate(571.6,393) scale(0.6,1)">10</text>
<path class="ld" d="M571.2 377.4L571.2 381"/>
<text class="n" text-anchor="middle" style="font-size:15.2px" transform="translate(593.8,371.4) scale(0.6,1)">6</text>
<path class="ld" d="M593.8 371.6L593.8 380.6"/>
<text class="n" text-anchor="middle" style="font-size:15.2px" transform="translate(653.1,366) scale(0.6,1)">6</text>
<path class="ld" d="M653.1 366L653.1 376.2"/>
<text class="n" text-anchor="middle" style="font-size:15.2px" transform="translate(130.7,490.2) scale(0.6,1)">6</text>
<path class="ld" d="M130.7 490.4L130.7 498"/>
<text class="n" text-anchor="middle" style="font-size:15.2px" transform="translate(159.8,453.8) scale(0.6,1)">6</text>
<path class="ld" d="M159.8 454L159.8 463"/>
<text class="n" text-anchor="middle" style="font-size:15.2px" transform="translate(216.6,523.8) scale(0.6,1)">6</text>
<path class="ld" d="M216.6 524L216.6 532"/>
<text class="n" text-anchor="middle" style="font-size:15.2px" transform="translate(289.4,518.8) scale(0.6,1)">6</text>
<path class="ld" d="M289.4 519L289.4 527"/>
<text class="n" text-anchor="middle" style="font-size:15.2px" transform="translate(163.6,632) scale(0.6,1)">1</text>
<path class="ld" d="M163.6 610.6L163.6 620.8"/>
<text class="n" text-anchor="middle" style="font-size:15.2px" transform="translate(566.8,485.4) scale(0.6,1)">2</text>
<path class="ld" d="M566.8 463.6L566.8 472.4"/>
<text class="n" text-anchor="middle" style="font-size:8.5px" transform="translate(563.5,460.6) scale(0.6,1)">6</text>
<text class="n" text-anchor="middle" style="font-size:15.2px" transform="translate(388.3,522) scale(0.6,1)">9</text>
<path class="ld" d="M388.5 500.8L388.5 510.6"/>
<text class="n" text-anchor="middle" style="font-size:15.2px" transform="translate(568.2,587) scale(0.6,1)">8</text>
<path class="ld" d="M568.2 564.4L568.2 575.6"/>
<g transform="translate(0,0)"><text class="n" text-anchor="middle" style="font-size:15.2px" transform="translate(422.8,552.4) scale(0.6,1)">7</text></g>
<path class="ld" d="M418.6 537.4L422.5 541.4L425.8 537.4"/>
<text class="n" text-anchor="middle" style="font-size:15.2px" transform="translate(470.8,552.4) scale(0.6,1)">7</text>
<path class="ld" d="M465.3 537L470.8 541.6L476.2 537"/>
<text class="n" text-anchor="middle" style="font-size:15.2px" transform="translate(589.6,595.2) scale(0.6,1)">7</text>
<path class="ld" d="M600 585.3L592.8 589.2L601.5 592.2"/>
<text class="n" text-anchor="middle" style="font-size:15.2px" transform="translate(621.8,619) scale(0.6,1)">7</text>
<path class="ld" d="M618 603.4L621.8 607.8L625.5 603.4"/>
<path class="w" d="M41.4 664.6L55.4 644.9L58.9 648L60.2 647.1L76.4 637.9L80.3 640.6L82.1 651.1L58 664.6L60.2 665.5L61.5 669.4L44.4 667.7Z"/>
<path class="o" d="M44.4 667.7L58.9 648L59.3 649.3"/>
<path class="o" d="M59.3 649.3L80.3 640.6"/>
<path class="o" d="M59.3 649.3L58 664.6"/>
<text transform="matrix(.8,-.36,-.1,1,58,663.4)" font-family="Liberation Serif" font-size="12.6" font-weight="bold" font-style="italic" style="font-family:'Liberation Serif',serif;stroke:#111;stroke-width:.5">FWD</text>
</svg>
</body></html>
